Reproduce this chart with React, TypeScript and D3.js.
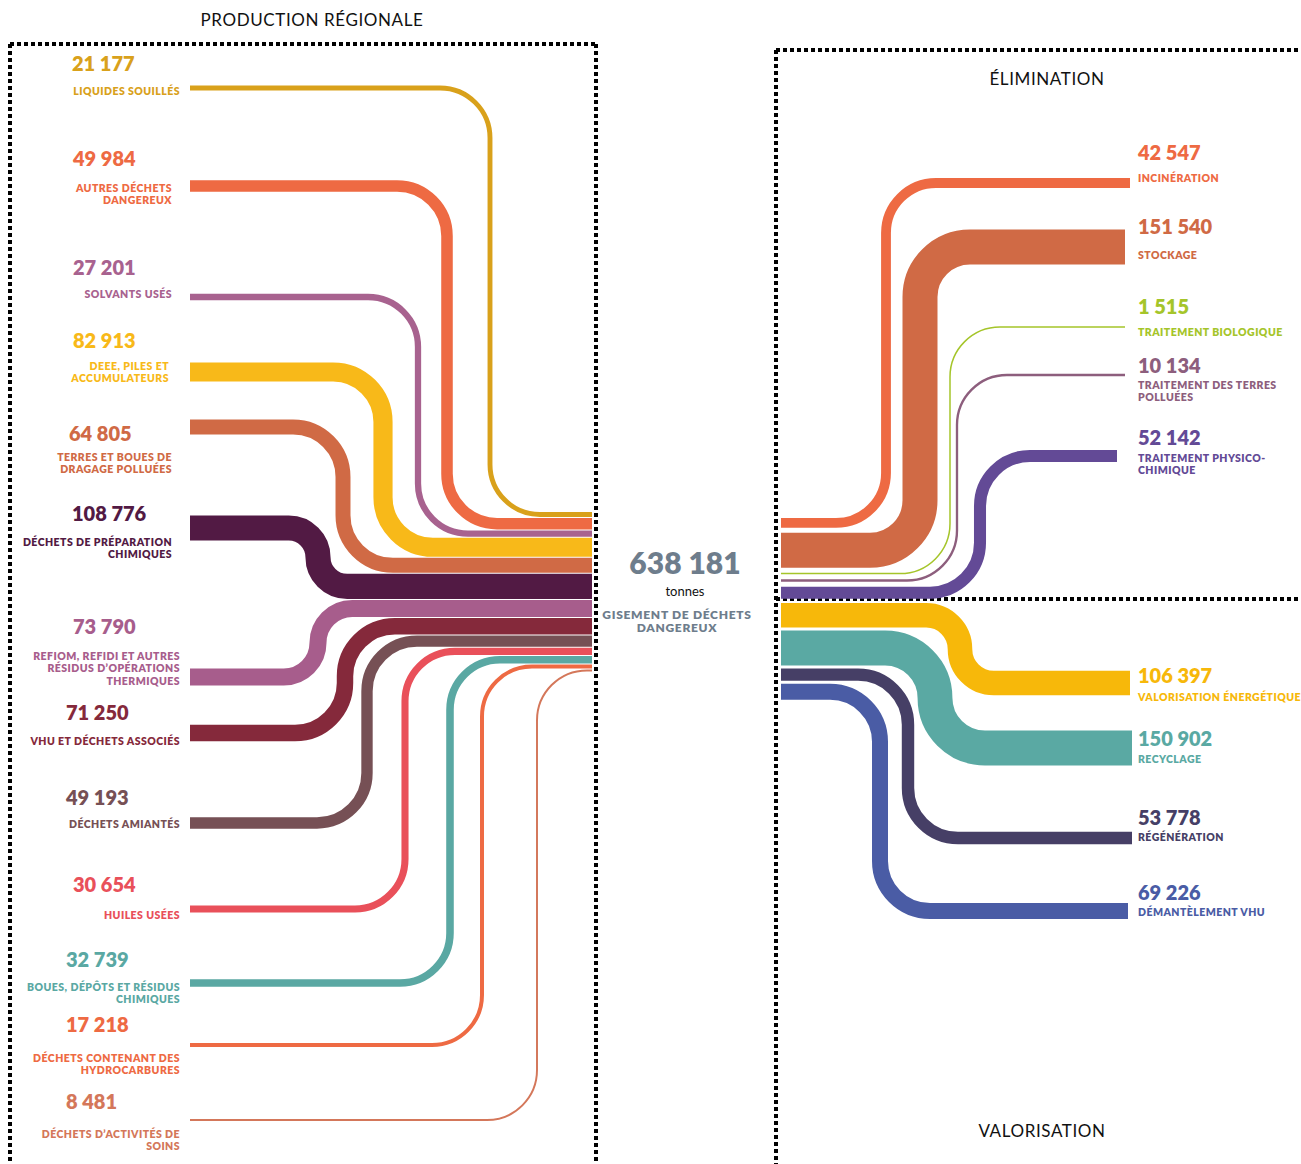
import * as d3 from "d3";

// flux entrants (production régionale), en tonnes
const sourceValues = [21177, 49984, 27201, 82913, 64805, 108776, 73790, 71250, 49193, 30654, 32739, 17218, 8481];
const sourceLabels = [
  ["LIQUIDES SOUILLÉS"],
  ["AUTRES DÉCHETS", "DANGEREUX"],
  ["SOLVANTS USÉS"],
  ["DEEE, PILES ET", "ACCUMULATEURS"],
  ["TERRES ET BOUES DE", "DRAGAGE POLLUÉES"],
  ["DÉCHETS DE PRÉPARATION", "CHIMIQUES"],
  ["REFIOM, REFIDI ET AUTRES", "RÉSIDUS D’OPÉRATIONS", "THERMIQUES"],
  ["VHU ET DÉCHETS ASSOCIÉS"],
  ["DÉCHETS AMIANTÉS"],
  ["HUILES USÉES"],
  ["BOUES, DÉPÔTS ET RÉSIDUS", "CHIMIQUES"],
  ["DÉCHETS CONTENANT DES", "HYDROCARBURES"],
  ["DÉCHETS D’ACTIVITÉS DE", "SOINS"],
];
const sourceColors = [
  "#d9a11b", "#ee6a43", "#a8628f", "#f8b919", "#d06a45", "#521a44", "#a75d8c",
  "#85293b", "#765055", "#e9505a", "#5aa8a3", "#ee6a43", "#d4775a",
];

// élimination
const elimValues = [42547, 151540, 1515, 10134, 52142];
const elimLabels = [
  ["INCINÉRATION"],
  ["STOCKAGE"],
  ["TRAITEMENT BIOLOGIQUE"],
  ["TRAITEMENT DES TERRES", "POLLUÉES"],
  ["TRAITEMENT PHYSICO-", "CHIMIQUE"],
];
const elimColors = ["#ee6a43", "#d06a45", "#a5c52a", "#8d5e7d", "#634a96"];

// valorisation
const valoValues = [106397, 150902, 53778, 69226];
const valoLabels = [["VALORISATION ÉNERGÉTIQUE"], ["RECYCLAGE"], ["RÉGÉNÉRATION"], ["DÉMANTÈLEMENT VHU"]];
const valoColors = ["#f7b80a", "#5aa9a3", "#463f66", "#4a5ca5"];

const TOTAL = 638181;

// mise en page (positions des rangées et des couloirs verticaux)
const leftLayout = [
  { y: 88, lane: 490, numX: 72, numY: 71, labX: 180, labY: 95 },
  { y: 186, lane: 447, numX: 73, numY: 166, labX: 172, labY: 192 },
  { y: 297, lane: 418, numX: 73, numY: 275, labX: 172, labY: 298 },
  { y: 372, lane: 383, numX: 73, numY: 348, labX: 169, labY: 370 },
  { y: 427, lane: 343, numX: 69, numY: 441, labX: 172, labY: 461 },
  { y: 528, lane: 318, numX: 72, numY: 521, labX: 172, labY: 546 },
  { y: 677, lane: 318, numX: 73, numY: 634, labX: 180, labY: 660 },
  { y: 733, lane: 345, numX: 66, numY: 720, labX: 180, labY: 745 },
  { y: 823, lane: 367, numX: 66, numY: 805, labX: 180, labY: 828 },
  { y: 909, lane: 405, numX: 73, numY: 892, labX: 180, labY: 919 },
  { y: 983, lane: 450, numX: 66, numY: 967, labX: 180, labY: 991 },
  { y: 1045, lane: 482, numX: 66, numY: 1032, labX: 180, labY: 1062 },
  { y: 1120, lane: 537, numX: 66, numY: 1109, labX: 180, labY: 1138 },
];
const elimLayout = [
  { y: 183, lane: 886, endX: 1130, numY: 160, labY: 182 },
  { y: 247, lane: 920, endX: 1125, numY: 234, labY: 259 },
  { y: 327, lane: 950, endX: 1125, numY: 314, labY: 336 },
  { y: 375, lane: 957, endX: 1125, numY: 373, labY: 389 },
  { y: 456, lane: 980, endX: 1117, numY: 445, labY: 462 },
];
const valoLayout = [
  { y: 683, lane: 960, endX: 1130, numY: 683, labY: 701 },
  { y: 748, lane: 935, endX: 1132, numY: 746, labY: 763 },
  { y: 838, lane: 908, endX: 1132, numY: 825, labY: 841 },
  { y: 911, lane: 880, endX: 1128, numY: 900, labY: 916 },
];

const W = 1301;
const H = 1164;
const FONT = 'Lato, "Open Sans", sans-serif';

const widthScale = d3.scaleLinear().domain([0, 151540]).range([0, 35]);
const bandWidth = (v: number) => Math.max(1.5, widthScale(v));

const fr = d3.formatLocale({ decimal: ",", thousands: "\u00a0", grouping: [3], currency: ["", " €"] });
const fmt = fr.format(",");

// centres des bandes empilées au point de jonction
function stackCenters(values: number[], y0: number, gap: number) {
  let y = y0;
  return values.map((v) => {
    const w = bandWidth(v);
    const c = y + w / 2;
    y += w + gap;
    return c;
  });
}

function flowPath(x0: number, y0: number, xv: number, y1: number, x1: number, r: number) {
  const p = d3.path();
  const rr = Math.min(r, Math.abs(y1 - y0) / 2);
  p.moveTo(x0, y0);
  if (rr < 0.5) {
    p.lineTo(x1, y1);
    return p.toString();
  }
  p.arcTo(xv, y0, xv, y1, rr);
  p.arcTo(xv, y1, x1, y1, rr);
  p.lineTo(x1, y1);
  return p.toString();
}

function Label({ x, numY, labY, value, lines, color, anchor, numX }: any) {
  return (
    <g fill={color} fontFamily={FONT}>
      <text x={numX ?? x} y={numY} fontSize={20} fontWeight={800} textAnchor={numX != null ? "start" : anchor}>
        {fmt(value)}
      </text>
      <text x={x} y={labY} fontSize={10.5} fontWeight={800} letterSpacing={0.45} textAnchor={anchor}>
        {lines.map((l: string, i: number) => (
          <tspan key={i} x={x} dy={i === 0 ? 0 : 12.4}>
            {l}
          </tspan>
        ))}
      </text>
    </g>
  );
}

export default function App() {
  const leftStack = stackCenters(sourceValues, 512, 1);
  const elimStack = stackCenters(elimValues, 518, 5);
  const valoStack = stackCenters(valoValues, 603, 3);
  const dot = { stroke: "#000", strokeWidth: 4, strokeDasharray: "4 3" };

  return (
    <svg
      width={W}
      height={H}
      viewBox={`0 0 ${W} ${H}`}
      style={{ position: "absolute", left: 0, top: 0, background: "#fff" }}
    >
      {/* cadres pointillés */}
      <line x1={10} y1={44} x2={598} y2={44} {...dot} />
      <line x1={10} y1={44} x2={10} y2={H} {...dot} />
      <line x1={596} y1={44} x2={596} y2={H} {...dot} />
      <line x1={776} y1={50} x2={W} y2={50} {...dot} />
      <line x1={776} y1={50} x2={776} y2={H} {...dot} />
      <line x1={776} y1={599} x2={W} y2={599} {...dot} />

      <g fontFamily={FONT} fontSize={17} fill="#111" textAnchor="middle" letterSpacing={0.6}>
        <text x={312} y={26}>PRODUCTION RÉGIONALE</text>
        <text x={1047} y={85}>ÉLIMINATION</text>
        <text x={1042} y={1137}>VALORISATION</text>
      </g>

      {/* flux */}
      <g fill="none" strokeLinecap="butt">
        {sourceValues.map((v, i) => (
          <path
            key={i}
            d={flowPath(190, leftLayout[i].y, leftLayout[i].lane, leftStack[i], 592, 50)}
            stroke={sourceColors[i]}
            strokeWidth={bandWidth(v)}
          />
        ))}
        {elimValues.map((v, i) => (
          <path
            key={"e" + i}
            d={flowPath(781, elimStack[i], elimLayout[i].lane, elimLayout[i].y, elimLayout[i].endX, 50)}
            stroke={elimColors[i]}
            strokeWidth={bandWidth(v)}
          />
        ))}
        {valoValues.map((v, i) => (
          <path
            key={"v" + i}
            d={flowPath(781, valoStack[i], valoLayout[i].lane, valoLayout[i].y, valoLayout[i].endX, 50)}
            stroke={valoColors[i]}
            strokeWidth={bandWidth(v)}
          />
        ))}
      </g>

      {sourceValues.map((v, i) => (
        <Label
          key={i}
          x={leftLayout[i].labX}
          numX={leftLayout[i].numX}
          numY={leftLayout[i].numY}
          labY={leftLayout[i].labY}
          value={v}
          lines={sourceLabels[i]}
          color={sourceColors[i]}
          anchor="end"
        />
      ))}
      {elimValues.map((v, i) => (
        <Label
          key={"e" + i}
          x={1138}
          numY={elimLayout[i].numY}
          labY={elimLayout[i].labY}
          value={v}
          lines={elimLabels[i]}
          color={elimColors[i]}
          anchor="start"
        />
      ))}
      {valoValues.map((v, i) => (
        <Label
          key={"v" + i}
          x={1138}
          numY={valoLayout[i].numY}
          labY={valoLayout[i].labY}
          value={v}
          lines={valoLabels[i]}
          color={valoColors[i]}
          anchor="start"
        />
      ))}

      {/* total */}
      <g fontFamily={FONT} textAnchor="middle">
        <text x={685} y={574} fontSize={30} fontWeight={800} fill="#6e7d8c">
          {fmt(TOTAL)}
        </text>
        <text x={685} y={596} fontSize={13} fill="#111">
          tonnes
        </text>
        <text x={677} y={619} fontSize={12} fontWeight={800} letterSpacing={0.7} fill="#6e7d8c">
          <tspan x={677}>GISEMENT DE DÉCHETS</tspan>
          <tspan x={677} dy={13}>DANGEREUX</tspan>
        </text>
      </g>
    </svg>
  );
}
